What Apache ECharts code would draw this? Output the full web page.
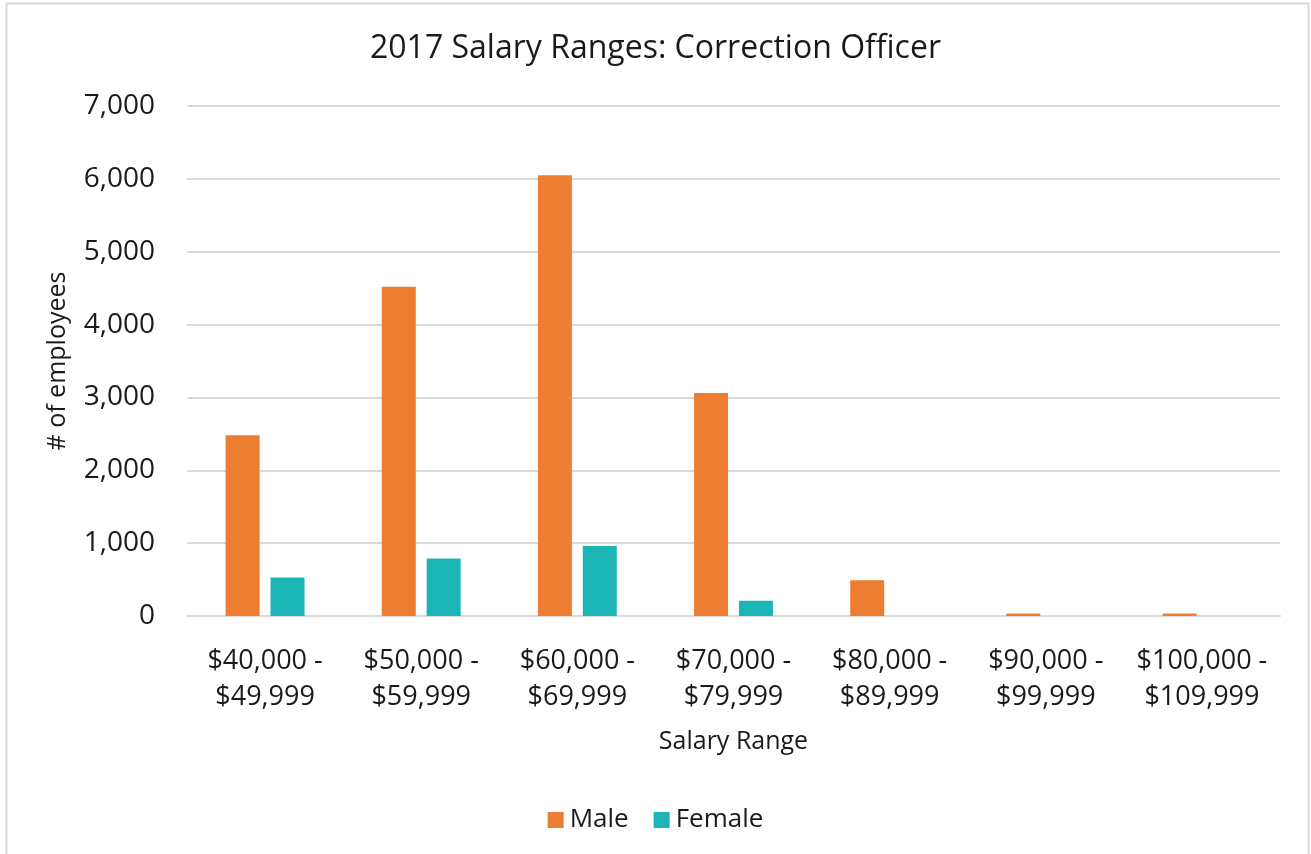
<!DOCTYPE html>
<html>
<head>
<meta charset="utf-8">
<script src="https://cdn.jsdelivr.net/npm/echarts@6/dist/echarts.min.js"></script>
<style>
  html, body { margin: 0; padding: 0; background: #fff; }
  #main { width: 1311px; height: 854px; }
</style>
</head>
<body>
<div id="main"></div>
<script>
var categories = ['$40,000 -\n$49,999', '$50,000 -\n$59,999', '$60,000 -\n$69,999', '$70,000 -\n$79,999',
  '$80,000 -\n$89,999', '$90,000 -\n$99,999', '$100,000 -\n$109,999'];
var male = [2480, 4520, 6050, 3060, 490, 35, 35];
var female = [530, 790, 960, 210, 0, 0, 0];

var font = 'Open Sans';
var textColor = '#1a1a1a';

var myChart = echarts.init(document.getElementById('main'));

var option = {
  animation: false,
  textStyle: { fontFamily: font },
  graphic: [{
    type: 'rect',
    shape: { x: 6.5, y: 3.5, width: 1302, height: 860 },
    style: { fill: 'none', stroke: '#d9d9d9', lineWidth: 2 },
    silent: true
  }],
  title: {
    text: '2017 Salary Ranges: Correction Officer',
    left: 'center',
    top: 28,
    textStyle: { fontFamily: font, fontSize: 32, fontWeight: 'normal', color: textColor }
  },
  legend: {
    top: 802,
    left: 'center',
    itemWidth: 16,
    itemHeight: 16,
    itemGap: 25,
    icon: 'rect',
    textStyle: { fontFamily: font, fontSize: 26, color: textColor, padding: [0, 0, 0, 1] },
    data: ['Male', 'Female']
  },
  grid: { left: 187, right: 31, top: 106, bottom: 238 },
  xAxis: {
    type: 'category',
    data: categories,
    name: 'Salary Range',
    nameLocation: 'middle',
    nameGap: 113,
    nameTextStyle: { fontFamily: font, fontSize: 25, color: textColor },
    axisTick: { show: false },
    axisLine: { lineStyle: { color: '#d9d9d9', width: 2 } },
    axisLabel: { fontFamily: font, fontSize: 27, color: textColor, margin: 27, lineHeight: 36, interval: 0 }
  },
  yAxis: {
    type: 'value',
    min: 0,
    max: 7000,
    interval: 1000,
    name: '# of employees',
    nameLocation: 'middle',
    nameGap: 117,
    nameTextStyle: { fontFamily: font, fontSize: 25, color: textColor },
    axisLine: { show: false },
    axisTick: { show: false },
    splitLine: { lineStyle: { color: '#d9d9d9', width: 2 } },
    axisLabel: {
      fontFamily: font, fontSize: 28, color: textColor, margin: 32,
      formatter: function (v) { return v.toLocaleString('en-US'); }
    }
  },
  series: [
    {
      name: 'Male', type: 'bar', data: male,
      barWidth: 34, barGap: '32%',
      itemStyle: { color: '#ED7D31' }
    },
    {
      name: 'Female', type: 'bar', data: female,
      barWidth: 34,
      itemStyle: { color: '#1CB5B5' }
    }
  ]
};

myChart.setOption(option);
</script>
</body>
</html>
